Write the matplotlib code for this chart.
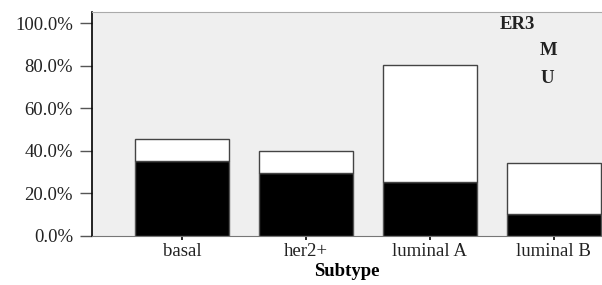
import matplotlib.pyplot as plt
import numpy as np

plt.rcParams['font.family'] = ['Liberation Serif', 'DejaVu Serif']

subtypes = ['basal', 'her2+', 'luminal A', 'luminal B']
m_vals = [35.1, 29.6, 25.5, 10.2]   # black part (M)
tot_vals = [45.6, 40.0, 80.4, 34.2]  # total height
u_vals = [t - m for t, m in zip(tot_vals, m_vals)]
yticks = [0, 20, 40, 60, 80, 100]

fig = plt.figure(figsize=(6.02, 2.85), dpi=100)
ax = fig.add_axes([0.1528, 0.172, 0.8472, 0.786])
ax.set_facecolor('#efefef')
x = np.arange(len(subtypes))
ax.bar(x, m_vals, width=0.76, color='black', edgecolor='#555555', linewidth=1)
ax.bar(x, u_vals, bottom=m_vals, width=0.76, color='white', edgecolor='#444444', linewidth=1)

ax.set_xlim(-0.726, 3.39)
ax.set_ylim(0, 105.3)
ax.set_yticks(yticks)
ax.set_yticklabels(['%.1f%%' % v for v in yticks], fontsize=13.5, color='#222222')
ax.set_xticks(x)
ax.set_xticklabels(subtypes, fontsize=13.5, color='#222222')
ax.tick_params(axis='y', length=8.6, width=1, color='#555555', pad=5)
ax.tick_params(axis='x', length=3, width=1.2, color='black', pad=2)
ax.set_xlabel('Subtype', fontsize=13.5, fontweight='bold', labelpad=2)

ax.spines['left'].set_color('black')
ax.spines['left'].set_linewidth(1.2)
ax.spines['bottom'].set_color('#777777')
ax.spines['top'].set_color('#aaaaaa')
ax.spines['right'].set_visible(False)

ax.text(0.800, 0.946, 'ER3', transform=ax.transAxes, fontsize=13.5, fontweight='bold',
        color='#222222', va='center')
ax.text(0.878, 0.826, 'M', transform=ax.transAxes, fontsize=13.5, fontweight='bold',
        color='#222222', va='center')
ax.text(0.880, 0.705, 'U', transform=ax.transAxes, fontsize=13.5, fontweight='bold',
        color='#222222', va='center')

fig.savefig('out.png', dpi=100)
